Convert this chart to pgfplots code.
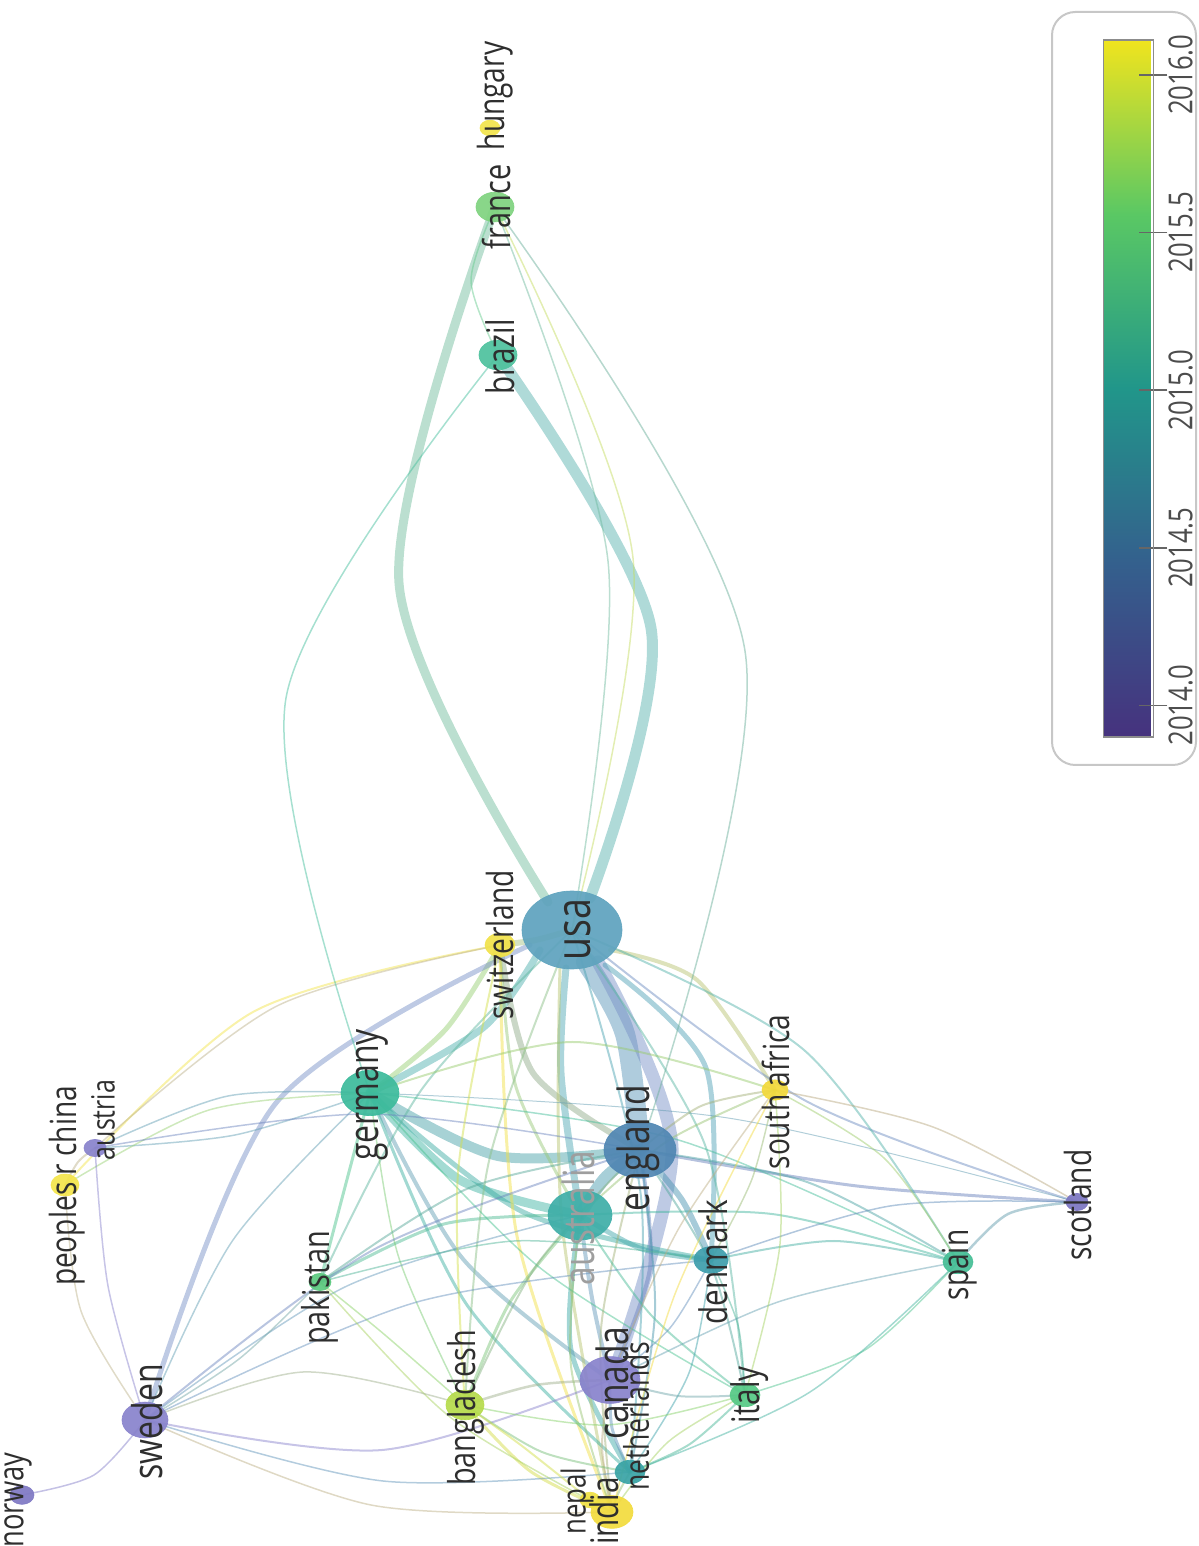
\documentclass[border=0pt]{standalone}
\usepackage{fontspec}
\setmainfont{Open Sans}
\usepackage{graphicx}
\usepackage{pgfplots}
\pgfplotsset{compat=1.18}

% node colours (average publication year on a viridis-like scale)
\definecolor{cUSA}{HTML}{5FA3BE}
\definecolor{cENG}{HTML}{5187B3}
\definecolor{cAUS}{HTML}{3FAEA8}
\definecolor{cGER}{HTML}{3DBB9C}
\definecolor{cCAN}{HTML}{8983CC}
\definecolor{cSWE}{HTML}{8983CC}
\definecolor{cNOR}{HTML}{7F79C4}
\definecolor{cAUT}{HTML}{8983CC}
\definecolor{cSCO}{HTML}{7C76C2}
\definecolor{cSUI}{HTML}{F1E24A}
\definecolor{cRSA}{HTML}{F2D93C}
\definecolor{cIND}{HTML}{F2DB3E}
\definecolor{cNEP}{HTML}{EFE043}
\definecolor{cCHN}{HTML}{F4E54C}
\definecolor{cHUN}{HTML}{F2E44C}
\definecolor{cBAN}{HTML}{B6DB4C}
\definecolor{cPAK}{HTML}{5CC97F}
\definecolor{cITA}{HTML}{56C985}
\definecolor{cESP}{HTML}{46BE96}
\definecolor{cDEN}{HTML}{3E9EAC}
\definecolor{cNED}{HTML}{3AA4A6}
\definecolor{cBRA}{HTML}{4FC29E}
\definecolor{cFRA}{HTML}{80D380}

% one pixel of the layout = 0.3pt
% link: colour, width (px), end point, arc apex, end point
\newcommand{\edge}[3]{\addplot[smooth, no marks, draw=#1, line width=#2*0.3pt, opacity=0.48, line cap=round] coordinates {#3};}
% country: colour, position, radius (pt)
\newcommand{\vnode}[3]{\addplot[only marks, mark=*, color=#1, mark size=#3pt,
  mark options={fill=#1, draw=#1, line width=0.2pt, yscale=0.78, opacity=0.93}] coordinates {(#2)};}
% label: position, font size (pt), text
\newcommand{\lab}[4][black!82]{\node[rotate=90, inner sep=0pt, text=#1,
  font=\fontsize{#3}{#3}\selectfont] at (axis cs:#2) {\scalebox{0.78}[1]{#4}};}
\newcommand{\cbl}[1]{\scalebox{0.78}[1]{#1}}

\begin{document}
\begin{tikzpicture}
\begin{axis}[
  name=net, at={(0,0)}, anchor=south west, set layers,
  scale only axis, width=359.4pt, height=463.8pt,
  xmin=0, xmax=1198, ymin=0, ymax=1546, y dir=reverse,
  axis lines=none, clip=true,
  colormap={cb}{rgb255=(70,50,126) rgb255=(52,96,141) rgb255=(33,150,138) rgb255=(90,200,100) rgb255=(240,228,30)},
  point meta min=2013.9, point meta max=2016.11,
  colorbar,
  colorbar style={
    scale only axis,
    at={(parent axis.south west)}, anchor=south west,
    xshift=322.5pt, yshift=242.7pt,
    width=15pt, height=209.1pt,
    ytick={2014,2014.5,2015,2015.5,2016},
    yticklabels={\cbl{2014.0},\cbl{2014.5},\cbl{2015.0},\cbl{2015.5},\cbl{2016.0}},
    ytick pos=right, yticklabel pos=right,
    tick align=center, major tick length=8.4pt,
    yticklabel shift=-3.2pt,
    ytick style={draw=black!60, line width=0.5pt},
    axis line style={draw=black!45, line width=0.4pt},
    yticklabel style={rotate=90, anchor=north, text=black!70,
      font=\fontsize{9.9}{9.9}\selectfont},
  },
]

% ---- links ----
\edge{cUSA!50!cENG}{20}{(586,962) (625,1034) (640,1150)}
\edge{cUSA!40!cCAN}{13}{(598,962) (672,1148) (612,1378)}
\edge{cUSA!50!cBRA}{11}{(498,355) (651,628) (590,898)}
\edge{cUSA!45!cFRA}{9}{(495,207) (399,583) (548,902)}
\edge{cENG!50!cAUS}{12}{(640,1150) (605,1178) (580,1215)}
\edge{cGER!50!cENG}{10}{(370,1093) (498,1156) (640,1150)}
\edge{cGER!50!cAUS}{9}{(370,1093) (460,1180) (580,1215)}
\edge{cUSA!50!cAUS}{7}{(566,968) (561,1073) (580,1215)}
\edge{cUSA!50!cGER}{7}{(540,950) (484,1027) (370,1093)}
\edge{cUSA!50!cSUI}{6}{(572,930) (536,940) (500,945)}
\edge{cSUI!50!cGER}{5}{(500,945) (446,1029) (370,1093)}
\edge{cSUI!40!cENG}{6}{(500,945) (533,1073) (640,1150)}
\edge{cENG!50!cDEN}{6}{(640,1150) (682,1200) (711,1260)}
\edge{cUSA!50!cDEN}{5}{(605,965) (706,1068) (711,1260)}
\edge{cUSA!40!cSWE}{5}{(530,945) (276,1103) (145,1420)}
\edge{cGER!50!cDEN}{5}{(370,1093) (523,1212) (711,1260)}
\edge{cAUS!50!cDEN}{5}{(580,1215) (642,1249) (711,1260)}
\edge{cAUS!50!cNED}{5}{(580,1215) (571,1350) (630,1472)}
\edge{cUSA!40!cRSA}{4}{(610,950) (697,980) (775,1090)}
\edge{cGER!50!cCAN}{4}{(370,1093) (463,1259) (610,1380)}
\edge{cENG!50!cCAN}{4}{(640,1150) (650,1268) (610,1380)}
\edge{cAUS!50!cCAN}{4}{(580,1215) (592,1298) (610,1380)}
\edge{cSUI!50!cAUS}{3}{(500,945) (516,1087) (580,1215)}
\edge{cSUI!60!cIND}{3}{(500,945) (517,1236) (612,1512)}
\edge{cUSA!40!cIND}{3}{(560,968) (562,1223) (612,1512)}
\edge{cGER!50!cNED}{3}{(370,1093) (467,1305) (630,1472)}
\edge{cGER!50!cPAK}{3}{(370,1093) (345,1187) (320,1282)}
\edge{cENG!50!cSCO}{3}{(640,1150) (857,1186) (1077,1202)}
\edge{cAUS!50!cPAK}{3}{(580,1215) (444,1224) (320,1282)}
\edge{cAUS!50!cBAN}{3}{(580,1215) (510,1302) (465,1405)}
\edge{cIND!50!cBAN}{3}{(612,1512) (530,1471) (465,1405)}
\edge{cCAN!50!cNED}{3}{(610,1380) (612,1428) (630,1472)}
\edge{cESP!50!cSCO}{2.5}{(958,1262) (1008,1214) (1077,1202)}
\edge{cCAN!50!cBAN}{2.5}{(610,1380) (536,1385) (465,1405)}
% ---- thinner links ----
\edge{cUSA!50!cSCO}{2}{(572,930) (806,1101) (1077,1202)}
\edge{cUSA!50!cESP}{2}{(572,930) (804,1050) (958,1262)}
\edge{cUSA!50!cITA}{2}{(572,930) (705,1145) (745,1395)}
\edge{cUSA!50!cNED}{2}{(572,930) (641,1197) (630,1472)}
\edge{cUSA!50!cBAN}{2}{(572,930) (489,1161) (465,1405)}
\edge{cUSA!50!cPAK}{2}{(572,930) (422,1089) (320,1282)}
\edge{cSUI!50!cCHN}{2}{(500,945) (253,1012) (65,1185)}
\edge{cSUI!50!cAUT}{1.5}{(500,945) (277,1006) (95,1148)}
\edge{cGER!50!cRSA}{2}{(370,1093) (572,1042) (775,1090)}
\edge{cGER!50!cAUT}{1.5}{(370,1093) (228,1096) (95,1148)}
\edge{cGER!50!cAUT}{1.5}{(370,1093) (235,1135) (95,1148)}
\edge{cGER!50!cCHN}{1.5}{(370,1093) (209,1110) (65,1185)}
\edge{cGER!50!cSWE}{1.5}{(370,1093) (233,1240) (145,1420)}
\edge{cGER!50!cESP}{1.5}{(370,1093) (675,1139) (958,1262)}
\edge{cGER!50!cSCO}{1}{(370,1093) (728,1118) (1077,1202)}
\edge{cGER!50!cITA}{1.5}{(370,1093) (539,1267) (745,1395)}
\edge{cGER!50!cBAN}{1.5}{(370,1093) (398,1255) (465,1405)}
\edge{cENG!50!cRSA}{2}{(640,1150) (701,1106) (775,1090)}
\edge{cENG!50!cESP}{2}{(640,1150) (807,1182) (958,1262)}
\edge{cENG!50!cITA}{2}{(640,1150) (711,1265) (745,1395)}
\edge{cENG!50!cNED}{2}{(640,1150) (655,1311) (630,1472)}
\edge{cENG!50!cSWE}{2}{(640,1150) (373,1250) (145,1420)}
\edge{cENG!50!cPAK}{2}{(640,1150) (469,1188) (320,1282)}
\edge{cENG!50!cBAN}{2}{(640,1150) (536,1266) (465,1405)}
\edge{cENG!50!cIND}{2}{(640,1150) (601,1329) (612,1512)}
\edge{cENG!50!cAUT}{1.5}{(640,1150) (367,1114) (95,1148)}
\edge{cAUS!50!cESP}{2}{(580,1215) (772,1214) (958,1262)}
\edge{cAUS!50!cITA}{2}{(580,1215) (651,1315) (745,1395)}
\edge{cAUS!50!cIND}{2}{(580,1215) (571,1366) (612,1512)}
\edge{cAUS!50!cSWE}{1.5}{(580,1215) (347,1286) (145,1420)}
\edge{cAUS!50!cRSA}{2}{(580,1215) (669,1140) (775,1090)}
\edge{cDEN!50!cESP}{2}{(711,1260) (834,1241) (958,1262)}
\edge{cDEN!50!cITA}{1.5}{(711,1260) (738,1325) (745,1395)}
\edge{cDEN!50!cCAN}{1.5}{(711,1260) (670,1328) (610,1380)}
\edge{cDEN!50!cNED}{1.5}{(711,1260) (689,1373) (630,1472)}
\edge{cDEN!50!cSCO}{1.5}{(711,1260) (890,1206) (1077,1202)}
\edge{cDEN!50!cSWE}{1.5}{(711,1260) (417,1302) (145,1420)}
\edge{cDEN!50!cPAK}{1.5}{(711,1260) (514,1241) (320,1282)}
\edge{cDEN!50!cRSA}{1.5}{(711,1260) (752,1179) (775,1090)}
\edge{cESP!50!cITA}{1.5}{(958,1262) (865,1350) (745,1395)}
\edge{cESP!50!cNED}{1.5}{(958,1262) (810,1392) (630,1472)}
\edge{cESP!50!cCAN}{1.5}{(958,1262) (778,1302) (610,1380)}
\edge{cESP!50!cRSA}{1.5}{(958,1262) (884,1158) (775,1090)}
\edge{cSCO!50!cRSA}{1.5}{(1077,1202) (933,1127) (775,1090)}
\edge{cRSA!50!cITA}{1.5}{(775,1090) (780,1244) (745,1395)}
\edge{cRSA!50!cIND}{1.5}{(775,1090) (675,1294) (612,1512)}
\edge{cRSA!50!cCAN}{1.5}{(775,1090) (679,1228) (610,1380)}
\edge{cCAN!50!cIND}{2}{(610,1380) (602,1446) (612,1512)}
\edge{cCAN!50!cSWE}{2}{(610,1380) (382,1450) (145,1420)}
\edge{cCAN!50!cITA}{2}{(610,1380) (678,1396) (745,1395)}
\edge{cNED!50!cITA}{2}{(630,1472) (690,1444) (745,1395)}
\edge{cNED!50!cIND}{2}{(630,1472) (618,1494) (612,1512)}
\edge{cNED!50!cBAN}{2}{(630,1472) (542,1452) (465,1405)}
\edge{cNED!50!cSWE}{1.5}{(630,1472) (383,1481) (145,1420)}
\edge{cNEP!50!cBAN}{2}{(590,1500) (522,1446) (465,1405)}
\edge{cIND!50!cITA}{1.5}{(612,1512) (668,1442) (745,1395)}
\edge{cIND!50!cPAK}{1.5}{(612,1512) (450,1417) (320,1282)}
\edge{cBAN!50!cSWE}{1.5}{(465,1405) (303,1372) (145,1420)}
\edge{cIND!50!cSWE}{1.5}{(612,1512) (371,1505) (145,1420)}
\edge{cBAN!50!cPAK}{1.5}{(465,1405) (385,1335) (320,1282)}
\edge{cBAN!50!cITA}{1.5}{(465,1405) (606,1425) (745,1395)}
\edge{cBAN!50!cSUI}{2}{(465,1405) (458,1173) (500,945)}
\edge{cPAK!50!cSWE}{1.5}{(320,1282) (239,1359) (145,1420)}
\edge{cSWE!50!cNOR}{1.5}{(145,1420) (94,1475) (22,1495)}
\edge{cSWE!50!cCHN}{1.5}{(145,1420) (81,1311) (65,1185)}
\edge{cSWE!50!cAUT}{1.5}{(145,1420) (108,1286) (95,1148)}
\edge{cCHN!50!cAUT}{2}{(65,1185) (78,1162) (95,1148)}
\edge{cFRA!50!cBRA}{1.5}{(495,207) (471,281) (498,355)}
\edge{cFRA!50!cUSA}{1.5}{(495,207) (608,561) (572,930)}
\edge{cFRA!40!cSUI}{1.5}{(495,207) (633,558) (572,930)}
\edge{cFRA!50!cENG}{1.5}{(495,207) (745,651) (640,1150)}
\edge{cBRA!50!cGER}{1.5}{(498,355) (286,698) (370,1093)}

% ---- countries ----
\vnode{cUSA}{572,930}{15}
\vnode{cENG}{640,1150}{10.8}
\vnode{cAUS}{580,1215}{9.6}
\vnode{cCAN}{610,1380}{9}
\vnode{cGER}{370,1093}{8.7}
\vnode{cSWE}{145,1420}{6.9}
\vnode{cIND}{612,1512}{6.3}
\vnode{cBAN}{465,1405}{5.7}
\vnode{cBRA}{498,355}{5.7}
\vnode{cFRA}{495,207}{5.7}
\vnode{cDEN}{711,1260}{5.1}
\vnode{cSUI}{500,945}{4.5}
\vnode{cESP}{958,1262}{4.5}
\vnode{cITA}{745,1395}{4.5}
\vnode{cNED}{630,1472}{4.5}
\vnode{cRSA}{775,1090}{3.9}
\vnode{cCHN}{65,1185}{4.2}
\vnode{cNOR}{22,1495}{3.6}
\vnode{cPAK}{320,1282}{3.3}
\vnode{cAUT}{95,1148}{3.3}
\vnode{cSCO}{1077,1202}{3.3}
\vnode{cHUN}{490,128}{3.0}
\vnode{cNEP}{590,1500}{3.0}

% ---- labels ----
\begin{pgfonlayer}{axis foreground}
\lab{578,930}{14.4}{usa}
\lab{500,945}{10.8}{switzerland}
\lab{372,1095}{12.3}{germany}
\lab{638,1148}{12.9}{england}
\lab[black!38]{578,1218}{12.9}{australia}
\lab{776,1092}{10.8}{south africa}
\lab{713,1262}{11.4}{denmark}
\lab{960,1265}{10.8}{spain}
\lab{1078,1205}{10.8}{scotland}
\lab{636,1416}{10.2}{netherlands}
\lab{612,1383}{12.9}{canada}
\lab{750,1395}{11.4}{italy}
\lab{604,1511}{11.4}{india}
\lab{577,1501}{9.9}{nepal}
\lab{466,1408}{11.1}{bangladesh}
\lab{320,1288}{11.1}{pakistan}
\lab{147,1422}{12.3}{sweden}
\lab{18,1500}{10.5}{norway}
\lab{67,1186}{10.8}{peoples r china}
\lab{103,1120}{9.6}{austria}
\lab{500,357}{11.4}{brazil}
\lab{497,207}{11.1}{france}
\lab{495,96}{10.8}{hungary}
% frame around the colour scale
\draw[black!22, line width=0.6pt, rounded corners=7pt] (axis cs:1052,12) rectangle (axis cs:1196,765);
\end{pgfonlayer}
\end{axis}
\pgfresetboundingbox
\path (net.south west) rectangle (net.north east);
\end{tikzpicture}
\end{document}
